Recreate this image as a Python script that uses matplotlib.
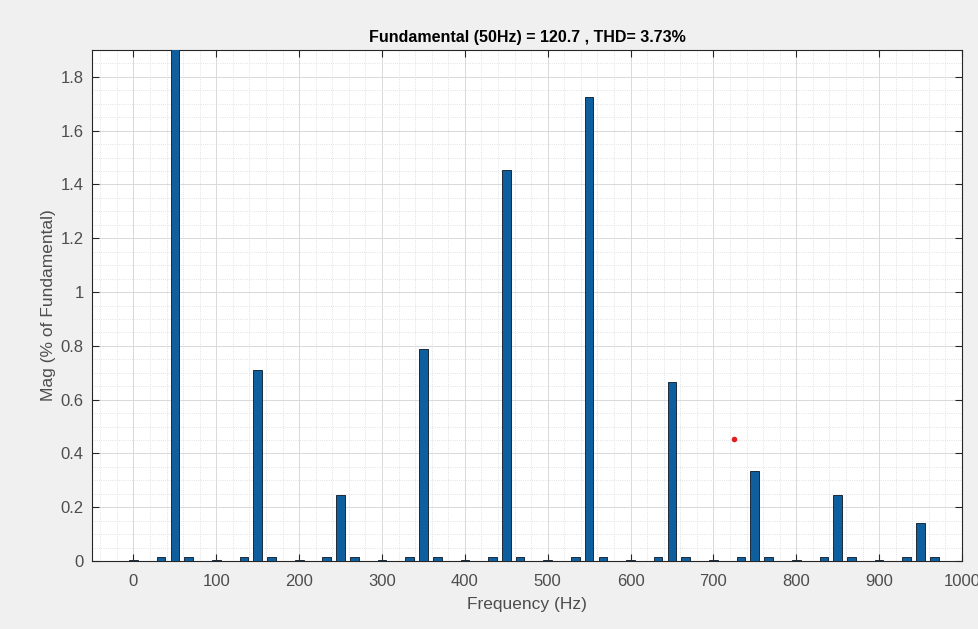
import numpy as np
import matplotlib.pyplot as plt
from matplotlib.ticker import MultipleLocator

plt.rcParams['font.family'] = ['Liberation Sans', 'DejaVu Sans']

# harmonic spectrum (% of fundamental)
harm_freq = [0, 50, 100, 150, 200, 250, 300, 350, 400, 450, 500,
             550, 600, 650, 700, 750, 800, 850, 900, 950]
harm_mag = [0.004, 100, 0.004, 0.71, 0.004, 0.245, 0.004, 0.79, 0.004, 1.455, 0.004,
            1.725, 0.004, 0.665, 0.004, 0.335, 0.004, 0.245, 0.004, 0.14]
# interharmonics beside each odd harmonic
inter_freq = [33.3, 66.7, 133.3, 166.7, 233.3, 266.7, 333.3, 366.7, 433.3, 466.7,
              533.3, 566.7, 633.3, 666.7, 733.3, 766.7, 833.3, 866.7, 933.3, 966.7]
inter_mag = [0.014] * 20
stray_x = [725]
stray_y = [0.452]

fig = plt.figure(figsize=(9.79, 6.29), dpi=100, facecolor='#f0f0f0')
ax = fig.add_axes([0.094, 0.108, 0.8886, 0.8125])
ax.set_facecolor('white')

ax.bar(harm_freq, harm_mag, width=10.5, color='#0f5f9e', edgecolor='#1a2a3a', linewidth=0.7, zorder=3)
ax.bar(inter_freq, inter_mag, width=10.5, color='#0f5f9e', edgecolor='#1a2a3a', linewidth=0.7, zorder=3)
ax.plot(stray_x, stray_y, 'o', color='#e02020', markersize=3, zorder=4)

ax.set_xlim(-50, 1000)
ax.set_ylim(0, 1.9)
ax.xaxis.set_major_locator(MultipleLocator(100))
ax.xaxis.set_minor_locator(MultipleLocator(20))
ax.yaxis.set_major_locator(MultipleLocator(0.2))
ax.yaxis.set_minor_locator(MultipleLocator(0.05))
ax.set_yticks(np.arange(0, 1.81, 0.2))
ax.set_yticklabels(['0', '0.2', '0.4', '0.6', '0.8', '1', '1.2', '1.4', '1.6', '1.8'])

ax.grid(which='major', color='#d9d9d9', linewidth=0.7, zorder=0)
ax.grid(which='minor', color='#d9d9d9', linewidth=0.6, linestyle=':', zorder=0)
ax.set_axisbelow(True)

ax.tick_params(which='both', direction='in', top=True, right=True, colors='#262626',
               labelcolor='#4d4d4d', labelsize=12)
ax.tick_params(which='minor', length=0)
ax.tick_params(which='major', length=5)
ax.tick_params(axis='x', pad=9)
ax.tick_params(axis='y', pad=6)
for s in ax.spines.values():
    s.set_color('#262626')
    s.set_linewidth(0.8)

ax.set_title('Fundamental (50Hz) = 120.7 , THD= 3.73%', fontsize=11.5, fontweight='bold', pad=6)
ax.set_xlabel('Frequency (Hz)', fontsize=12.5, color='#4d4d4d', labelpad=6)
ax.set_ylabel('Mag (% of Fundamental)', fontsize=12.5, color='#4d4d4d', labelpad=3)

fig.savefig('out.png', dpi=100, facecolor=fig.get_facecolor())
